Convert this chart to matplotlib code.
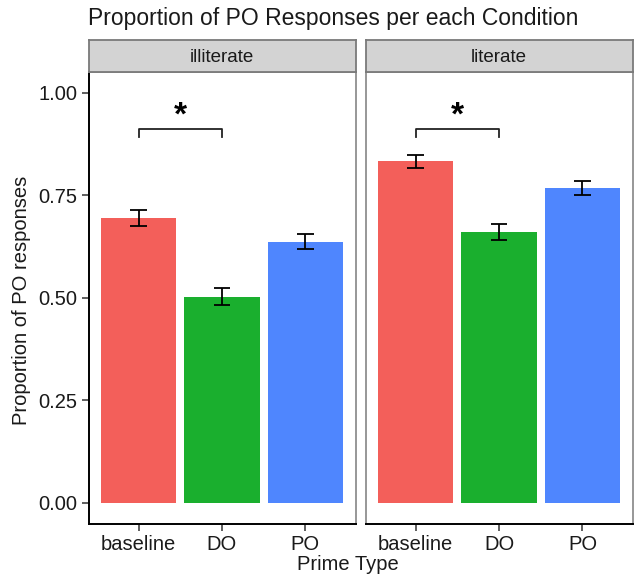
import numpy as np
import matplotlib
matplotlib.use("Agg")
import matplotlib.pyplot as plt

plt.rcParams["font.family"] = ["Liberation Sans", "DejaVu Sans"]

# data
conditions = ["illiterate", "literate"]
prime_types = ["baseline", "DO", "PO"]
prop_po = {
    "illiterate": [0.695, 0.503, 0.637],
    "literate":   [0.832, 0.660, 0.768],
}
prop_se = {
    "illiterate": [0.020, 0.020, 0.018],
    "literate":   [0.016, 0.019, 0.017],
}
y_ticks = [0.00, 0.25, 0.50, 0.75, 1.00]
y_tick_labels = ["0.00", "0.25", "0.50", "0.75", "1.00"]
bar_colors = ["#F35F5A", "#1AAF2E", "#4F86FE"]

# significance bracket (baseline vs DO) in each panel
sig_pair = (0, 1)
sig_height = 0.911
sig_drop = 0.019

W, H = 634, 575
fig = plt.figure(figsize=(W / 100, H / 100), dpi=100)
fig.patch.set_facecolor("white")


def fx(px):
    return px / W


def fy(py):
    return 1 - py / H


panel_left = [88.5, 365.5]
panel_w = 267
panel_top, panel_bot = 72, 523.5
strip_top = 40

text_col = "#1a1a1a"
border_col = "#7a7a7a"
x = np.arange(len(prime_types))

for i, cond in enumerate(conditions):
    ax = fig.add_axes([fx(panel_left[i]), fy(panel_bot),
                       fx(panel_w), (panel_bot - panel_top) / H])
    vals = prop_po[cond]
    errs = prop_se[cond]
    ax.bar(x, vals, width=0.9, color=bar_colors, zorder=2)

    lo = np.array(vals) - np.array(errs)
    hi = np.array(vals) + np.array(errs)
    ax.vlines(x, lo, hi, color="black", lw=1.3, zorder=3)
    ax.hlines(lo, x - 0.1, x + 0.1, color="black", lw=1.3, zorder=3)
    ax.hlines(hi, x - 0.1, x + 0.1, color="black", lw=1.3, zorder=3)

    a, b = sig_pair
    ax.plot([a, a, b, b],
            [sig_height - sig_drop, sig_height, sig_height, sig_height - sig_drop],
            color="#222222", lw=1.3, zorder=3)
    ax.text((a + b) / 2, 0.922, "*", ha="center", va="baseline",
            fontsize=24, fontweight="bold", color="black")

    ax.set_xlim(-0.6, 2.6)
    ax.set_ylim(-0.05, 1.05)
    ax.set_xticks(x)
    ax.set_xticklabels(prime_types, fontsize=14.5, color=text_col)
    ax.tick_params(axis="x", length=5, width=1.1, color="#333333", pad=3)

    for s in ["top", "right", "left"]:
        ax.spines[s].set_color(border_col)
        ax.spines[s].set_linewidth(1.1)
    ax.spines["bottom"].set_color("black")
    ax.spines["bottom"].set_linewidth(1.4)

    if i == 0:
        ax.set_yticks(y_ticks)
        ax.set_yticklabels(y_tick_labels, fontsize=14.5, color=text_col)
        ax.tick_params(axis="y", length=5, width=1.1, color="#333333", pad=3)
        ax.spines["left"].set_color("black")
        ax.spines["left"].set_linewidth(1.4)
    else:
        ax.set_yticks([])

    # facet strip
    sax = fig.add_axes([fx(panel_left[i]), fy(panel_top),
                        fx(panel_w), (panel_top - strip_top) / H])
    sax.set_facecolor("#D3D3D3")
    sax.set_xticks([])
    sax.set_yticks([])
    for s in sax.spines.values():
        s.set_color(border_col)
        s.set_linewidth(1.3)
    sax.text(0.5, 0.44, cond, ha="center", va="center",
             fontsize=13.5, color=text_col, transform=sax.transAxes)

fig.text(fx(88), fy(18), "Proportion of PO Responses per each Condition",
         ha="left", va="center", fontsize=16.5, color=text_col)
fig.text(fx(348), fy(565), "Prime Type", ha="center", va="center",
         fontsize=14.5, color=text_col)
fig.text(fx(22), fy(300), "Proportion of PO responses", ha="center",
         va="center", rotation=90, fontsize=14.5, color=text_col)

fig.savefig("out.png", dpi=100)
